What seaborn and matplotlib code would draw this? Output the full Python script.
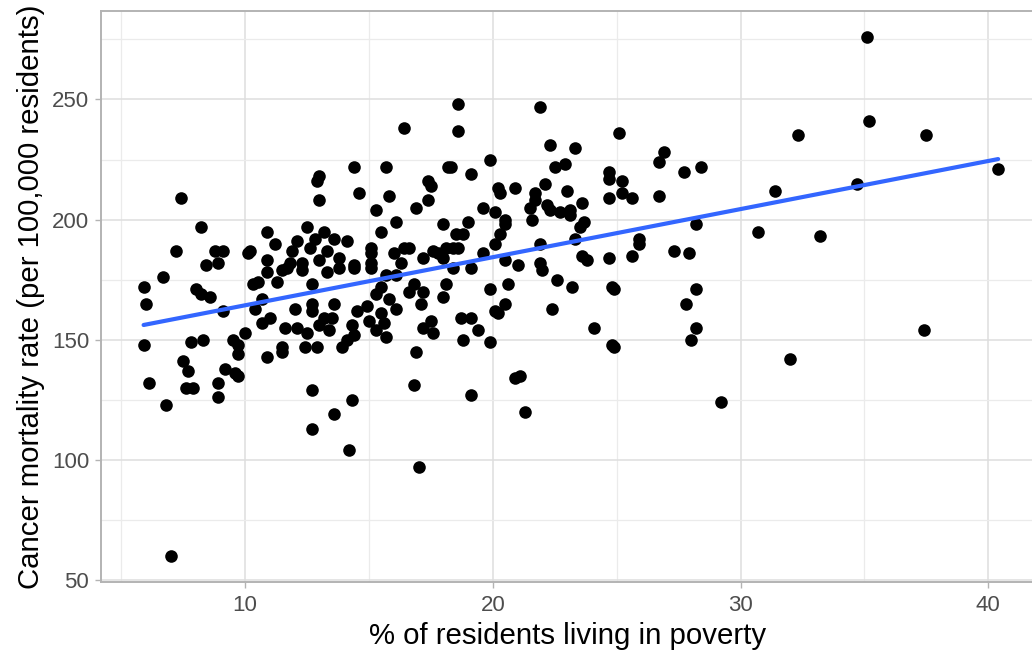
import numpy as np
import pandas as pd
import matplotlib
matplotlib.use("Agg")
import matplotlib.pyplot as plt
from matplotlib.ticker import FixedLocator
import seaborn as sns

# County-level poverty share (%) and cancer mortality (per 100,000 residents)
poverty_low = [
    5.9, 6.0, 5.9, 6.1, 6.7, 6.8, 7.0, 7.4, 7.2, 7.5, 7.7, 7.6, 7.9, 7.8, 8.0,
    8.2, 8.2, 8.6, 8.4, 8.8, 8.9, 9.1, 8.3, 8.9, 8.9, 9.1, 9.2, 9.6, 9.7, 9.5,
    9.7, 9.7, 10.0, 10.1, 10.2, 10.3, 10.5, 10.4, 10.7, 10.7, 11.0, 10.9, 11.2,
    10.9, 10.9, 10.9, 11.3, 11.5, 11.7, 11.8, 11.9, 12.1, 11.5, 11.5, 11.6,
    12.1, 12.0,
]
mortality_low = [
    172, 165, 148, 132, 176, 123, 60, 209, 187, 141, 137, 130, 130, 149, 171,
    197, 169, 168, 181, 187, 182, 187, 150, 132, 126, 162, 138, 136, 135, 150,
    148, 144, 153, 186, 187, 173, 174, 163, 167, 157, 159, 195, 190,
    183, 178, 143, 174, 179, 180, 182, 187, 191, 147, 145, 155,
    155, 163,
]

poverty_mid = [
    13.0, 12.9, 13.0, 14.4, 14.6, 15.7, 15.8, 15.3, 17.4, 17.5, 17.4, 16.9,
    18.2, 18.0, 16.1, 15.5, 12.5, 13.2, 12.8, 13.6, 14.1, 12.6, 13.3, 15.1,
    15.1, 16.0, 16.4, 16.6, 17.6, 17.8, 12.3, 13.0, 13.8, 14.4, 15.1, 16.3,
    17.2, 18.0, 12.3, 13.3, 12.7, 13.8, 14.4, 15.1, 15.7, 16.1, 16.8, 17.2,
    16.6, 18.0, 18.1, 12.7, 12.7, 13.6, 13.2, 13.5, 12.5, 13.0, 13.4, 14.3,
    14.4, 14.1, 13.9, 14.5, 14.9, 15.0, 15.3, 15.5, 15.6, 15.3, 15.7, 15.8,
    16.1, 15.5, 17.1, 17.5, 17.2, 17.6, 12.4, 12.9, 16.9, 16.8,
    12.7, 14.3, 13.6, 12.7, 14.2, 17.0, 16.4,
]
mortality_mid = [
    218, 216, 208, 222, 211, 222, 210, 204, 216, 214, 208, 205,
    222, 198, 199, 195, 197, 195, 192, 192, 191, 188, 187, 188,
    186, 186, 188, 188, 187, 186, 182, 183, 184, 181, 182, 182,
    184, 184, 179, 178, 173, 180, 180, 180, 177, 177, 173, 170,
    170, 168, 173, 165, 162, 165, 159, 159, 153, 156, 154, 156,
    152, 150, 147, 162, 164, 158, 169, 161, 157, 154, 151, 167,
    163, 172, 165, 158, 155, 153, 147, 147, 145, 131,
    129, 125, 119, 113, 104, 97, 238,
]

poverty_high = [
    18.3, 19.9, 19.1, 20.2, 20.3, 20.9, 22.1, 22.5, 22.9, 21.7, 21.7, 21.5,
    23.0, 23.6, 22.2, 22.3, 22.7, 23.1, 23.1, 23.7, 23.5, 21.6, 19.6, 20.1,
    20.5, 20.5, 20.3, 20.1, 19.0, 18.5, 18.8, 18.1, 18.4, 18.6, 19.6, 21.9,
    23.3, 23.6, 23.8, 20.5, 21.0, 21.9, 22.0, 22.6, 23.2, 20.6, 19.9, 18.4,
    19.1, 20.5, 20.1, 20.2, 22.4, 18.7, 19.1, 19.4, 18.8, 19.9, 24.1, 21.1,
    20.9, 19.1, 21.3, 18.6, 18.6, 21.9, 22.3, 23.3,
    25.1, 26.9, 26.7, 28.4, 27.7, 24.7, 24.7, 25.2, 25.2, 24.7, 25.6, 26.7,
    28.2, 25.9, 25.9, 27.3, 27.9, 25.6, 24.7, 24.8, 24.9, 28.2, 27.8, 28.2,
    28.0, 24.8, 24.9,
    29.2, 30.7, 31.4, 32.0, 32.3, 33.2, 34.7, 35.1, 35.2, 37.4, 37.5, 40.4,
]
mortality_high = [
    222, 225, 219, 213, 211, 213, 215, 222, 223, 211, 208, 205,
    212, 207, 206, 204, 203, 204, 202, 199, 197, 200, 205, 203,
    200, 198, 194, 190, 199, 194, 194, 188, 188, 188, 186, 190,
    192, 185, 183, 183, 181, 182, 179, 175, 172, 173, 171, 180,
    180, 165, 162, 161, 163, 159, 159, 154, 150, 149, 155, 135,
    134, 127, 120, 248, 237, 247, 231, 230,
    236, 228, 224, 222, 220, 220, 217, 216, 211, 209, 209, 210,
    198, 192, 190, 187, 186, 185, 184, 172, 171, 171, 165, 155,
    150, 148, 147,
    124, 195, 212, 142, 235, 193, 215, 276, 241, 154, 235, 221,
]

x_ticks = [10, 20, 30, 40]
y_ticks = [50, 100, 150, 200, 250]

df = pd.DataFrame({
    "poverty": poverty_low + poverty_mid + poverty_high,
    "mortality": mortality_low + mortality_mid + mortality_high,
})

sns.set_theme(style="white")
plt.rcParams["font.family"] = ["Liberation Sans", "DejaVu Sans"]

fig = plt.figure(figsize=(10.32, 6.53), dpi=100)
ax = fig.add_axes([101 / 1032, 1 - 582 / 653, 1 - 101 / 1032 + 0.002, (582 - 11) / 653])

sns.regplot(
    data=df, x="poverty", y="mortality", ax=ax, ci=None,
    scatter_kws=dict(s=82, color="black", linewidths=0, alpha=1, zorder=3),
    line_kws=dict(color="#3366FF", linewidth=3.0, zorder=4),
)

ax.set_xlim(4.18, 41.85)
ax.set_ylim(49.2, 286.8)
ax.set_xticks(x_ticks)
ax.set_yticks(y_ticks)
ax.xaxis.set_minor_locator(FixedLocator([5, 15, 25, 35]))
ax.yaxis.set_minor_locator(FixedLocator([75, 125, 175, 225, 275]))

ax.grid(which="major", color="#DEDEDE", linewidth=1.1, zorder=0)
ax.grid(which="minor", color="#EBEBEB", linewidth=0.9, zorder=0)
ax.set_axisbelow(True)

for side in ["left", "top", "bottom"]:
    ax.spines[side].set_visible(True)
    ax.spines[side].set_color("#B3B3B3")
    ax.spines[side].set_linewidth(1.4)
ax.spines["right"].set_visible(False)

ax.tick_params(axis="both", which="major", length=4.5, width=1.0, color="#B3B3B3",
               labelcolor="#4D4D4D", labelsize=16, direction="out",
               bottom=True, left=True)
ax.tick_params(axis="x", which="major", pad=5)
ax.tick_params(axis="y", which="major", pad=4)
ax.tick_params(which="minor", length=0)

ax.set_xlabel("% of residents living in poverty", fontsize=21.2, color="black", labelpad=4)
ax.set_ylabel("Cancer mortality rate (per 100,000 residents)", fontsize=21.2,
              color="black", labelpad=5)

fig.savefig("out.png", dpi=100)
